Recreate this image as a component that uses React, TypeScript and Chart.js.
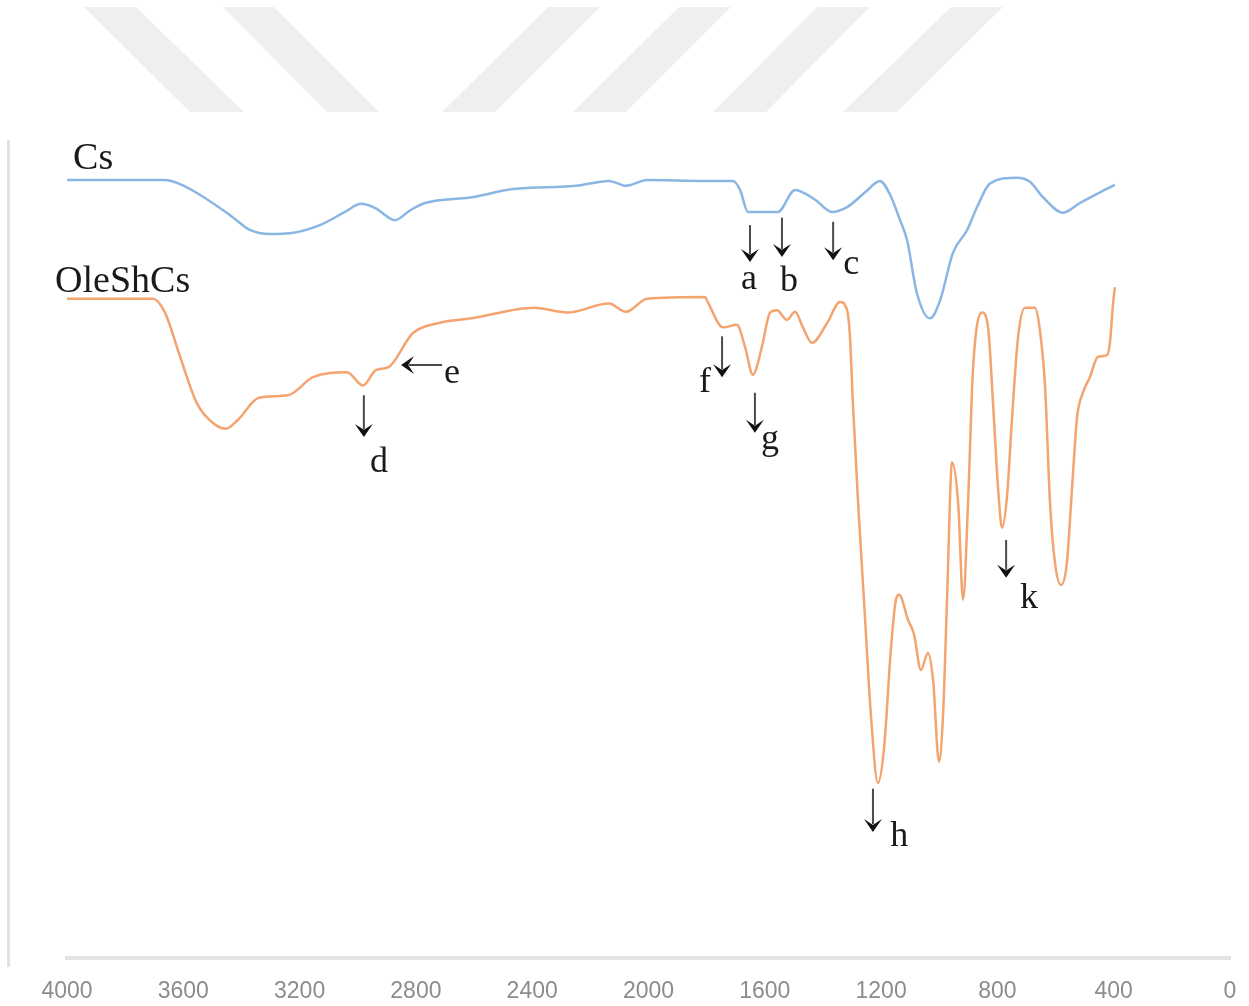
import React, { useEffect, useRef } from "react";
import { Chart, registerables } from "chart.js";

Chart.register(...registerables);

// ---- data (wavenumber in cm-1, transmittance in arbitrary %) ----
const csWavenumber = [4000, 3663, 3611, 3543, 3439, 3371, 3302, 3233, 3130, 3044, 2989, 2941, 2872, 2820, 2769, 2607, 2466, 2249, 2136, 2077, 2005, 1806, 1709, 1685, 1658, 1555, 1496, 1427, 1369, 1317, 1255, 1204, 1169, 1135, 1111, 1077, 1032, 997, 953, 904, 870, 825, 733, 688, 643, 574, 516, 447, 396];
const csTransmittance = [95.1, 95.1, 94.6, 93.3, 90.8, 89.0, 88.5, 88.6, 89.6, 91.2, 92.2, 91.7, 90.2, 91.4, 92.3, 93.0, 94.0, 94.4, 95.0, 94.4, 95.1, 95.0, 95.0, 93.9, 91.2, 91.2, 93.9, 92.7, 91.2, 91.8, 93.6, 95.0, 93.3, 90.2, 87.8, 81.3, 78.2, 80.4, 86.2, 89.0, 91.8, 94.7, 95.4, 94.9, 93.0, 91.1, 92.3, 93.6, 94.5];

const oleWavenumber = [4000, 3704, 3663, 3611, 3553, 3498, 3453, 3412, 3340, 3240, 3154, 3037, 2982, 2937, 2896, 2810, 2724, 2607, 2394, 2322, 2280, 2136, 2077, 2005, 1806, 1795, 1744, 1696, 1668, 1641, 1610, 1582, 1558, 1524, 1496, 1469, 1438, 1386, 1341, 1317, 1307, 1297, 1279, 1259, 1235, 1211, 1190, 1166, 1149, 1138, 1107, 1087, 1063, 1039, 1021, 1001, 987, 973, 956, 935, 918, 901, 884, 853, 832, 815, 798, 784, 767, 750, 729, 705, 671, 654, 636, 619, 602, 581, 561, 543, 526, 506, 482, 454, 423, 413, 402, 396];
const oleTransmittance = [80.6, 80.6, 78.9, 73.5, 67.8, 65.4, 64.7, 65.8, 68.5, 68.8, 71.0, 71.6, 70.0, 71.9, 72.2, 76.4, 77.6, 78.2, 79.5, 79.1, 78.9, 80.0, 79.0, 80.6, 80.8, 80.1, 77.1, 77.4, 74.7, 71.3, 74.7, 78.9, 79.2, 78.0, 79.0, 77.1, 75.2, 77.6, 80.2, 79.2, 75.9, 67.8, 55.6, 43.8, 29.7, 21.4, 25.6, 37.9, 43.8, 44.4, 41.3, 39.6, 35.2, 37.3, 33.9, 24.0, 29.7, 44.1, 60.6, 55.6, 43.8, 55.6, 71.9, 78.9, 77.1, 67.8, 57.6, 52.6, 56.4, 65.8, 75.9, 79.5, 79.5, 76.8, 69.8, 55.6, 48.3, 45.6, 48.3, 57.6, 66.1, 69.1, 71.0, 73.5, 73.7, 75.2, 80.1, 82.0];

const xTickValues = [4000, 3600, 3200, 2800, 2400, 2000, 1600, 1200, 800, 400, 0];

const seriesNames = ["Cs", "OleShCs"];
// name anchors (data units): left x, baseline y
const nameX = [3979, 4041];
const nameY = [96.5, 81.4];

// peak annotations: arrow from (x1,y1) to (x2,y2), label at (lx,ly) baseline
const annLabels = ["a", "b", "c", "d", "e", "f", "g", "h", "k"];
const annX1 = [1651, 1541, 1365, 2979, 2710, 1747, 1634, 1228, 770];
const annY1 = [89.6, 90.5, 90.0, 68.8, 72.5, 76.0, 69.1, 20.7, 51.1];
const annX2 = [1651, 1541, 1365, 2979, 2851, 1747, 1634, 1228, 770];
const annY2 = [85.1, 85.7, 85.3, 63.7, 72.5, 71.0, 64.2, 15.4, 46.5];
const annLX = [1654, 1517, 1303, 2927, 2676, 1806, 1582, 1138, 691];
const annLY = [81.8, 81.5, 83.6, 59.4, 70.3, 69.2, 62.2, 13.7, 42.8];

const decorPlugin = {
  id: "decor",
  beforeDraw(chart: any) {
    const ctx = chart.ctx;
    ctx.save();
    // watermark stripes
    ctx.fillStyle = "#efefef";
    const stripes = [
      [84, 136, 244, 190],
      [223, 274, 379, 327],
      [548, 600, 495, 442],
      [679, 731, 626, 573],
      [817, 870, 766, 713],
      [951, 1003, 897, 843],
    ];
    for (const s of stripes) {
      ctx.beginPath();
      ctx.moveTo(s[0], 7);
      ctx.lineTo(s[1], 7);
      ctx.lineTo(s[2], 112);
      ctx.lineTo(s[3], 112);
      ctx.closePath();
      ctx.fill();
    }
    // left frame line
    ctx.strokeStyle = "#e2e2e2";
    ctx.lineWidth = 3;
    ctx.beginPath();
    ctx.moveTo(8.5, 140);
    ctx.lineTo(8.5, 967);
    ctx.stroke();
    ctx.restore();
  },
  afterDraw(chart: any) {
    const ctx = chart.ctx;
    const xs = chart.scales.x;
    const ys = chart.scales.y;
    ctx.save();
    // series names
    ctx.fillStyle = "#1a1a1a";
    ctx.font = "38px 'Liberation Serif', serif";
    ctx.textAlign = "left";
    ctx.textBaseline = "alphabetic";
    seriesNames.forEach((n, i) => {
      ctx.fillText(n, xs.getPixelForValue(nameX[i]), ys.getPixelForValue(nameY[i]));
    });
    // annotations
    ctx.font = "36px 'Liberation Serif', serif";
    ctx.textAlign = "center";
    annLabels.forEach((lab, i) => {
      const x1 = xs.getPixelForValue(annX1[i]);
      const y1 = ys.getPixelForValue(annY1[i]);
      const x2 = xs.getPixelForValue(annX2[i]);
      const y2 = ys.getPixelForValue(annY2[i]);
      const ang = Math.atan2(y2 - y1, x2 - x1);
      const headLen = 13;
      const headW = 9;
      ctx.strokeStyle = "#4a4a4a";
      ctx.lineWidth = 2;
      ctx.beginPath();
      ctx.moveTo(x1, y1);
      ctx.lineTo(x2 - Math.cos(ang) * headLen * 0.6, y2 - Math.sin(ang) * headLen * 0.6);
      ctx.stroke();
      ctx.fillStyle = "#111";
      ctx.beginPath();
      ctx.moveTo(x2, y2);
      const bx = x2 - Math.cos(ang) * headLen;
      const by = y2 - Math.sin(ang) * headLen;
      ctx.lineTo(bx - Math.sin(ang) * headW, by + Math.cos(ang) * headW);
      ctx.lineTo(x2 - Math.cos(ang) * headLen * 0.55, y2 - Math.sin(ang) * headLen * 0.55);
      ctx.lineTo(bx + Math.sin(ang) * headW, by - Math.cos(ang) * headW);
      ctx.closePath();
      ctx.fill();
      ctx.fillStyle = "#1a1a1a";
      ctx.fillText(lab, xs.getPixelForValue(annLX[i]), ys.getPixelForValue(annLY[i]));
    });
    ctx.restore();
  },
};

export default function App() {
  const ref = useRef<HTMLCanvasElement | null>(null);
  useEffect(() => {
    if (!ref.current) return;
    const chart = new Chart(ref.current, {
      type: "line",
      data: {
        datasets: [
          {
            label: seriesNames[0],
            data: csWavenumber.map((w, i) => ({ x: w, y: csTransmittance[i] })),
            borderColor: "#8ab6e4",
            borderWidth: 2.5,
            pointRadius: 0,
            cubicInterpolationMode: "monotone",
            fill: false,
          },
          {
            label: seriesNames[1],
            data: oleWavenumber.map((w, i) => ({ x: w, y: oleTransmittance[i] })),
            borderColor: "#f3a46f",
            borderWidth: 2.5,
            pointRadius: 0,
            cubicInterpolationMode: "monotone",
            fill: false,
          },
        ],
      },
      options: {
        animation: false,
        responsive: false,
        devicePixelRatio: 1,
        layout: { padding: { left: 67, right: 19, top: 140, bottom: 0 } },
        plugins: { legend: { display: false }, tooltip: { enabled: false } },
        scales: {
          x: {
            type: "linear",
            reverse: true,
            min: 0,
            max: 4000,
            afterBuildTicks: (scale: any) => {
              scale.ticks = xTickValues
                .slice()
                .sort((a, b) => a - b)
                .map((v) => ({ value: v }));
            },
            afterFit: (scale: any) => {
              scale.height = 48;
            },
            grid: { display: false, drawTicks: false },
            border: { display: true, color: "#e3e3e3", width: 4 },
            ticks: {
              color: "#8c8c8c",
              padding: 20,
              maxRotation: 0,
              font: { family: "'Liberation Sans', Arial, sans-serif", size: 23 },
              callback: (v: any) => String(v),
            },
          },
          y: { display: false, min: 0, max: 100 },
        },
      },
      plugins: [decorPlugin],
    } as any);
    return () => chart.destroy();
  }, []);
  return (
    <div style={{ position: "absolute", left: 0, top: 0, width: 1249, height: 1006, background: "#fff" }}>
      <canvas ref={ref} width={1249} height={1006} style={{ display: "block" }} />
    </div>
  );
}
